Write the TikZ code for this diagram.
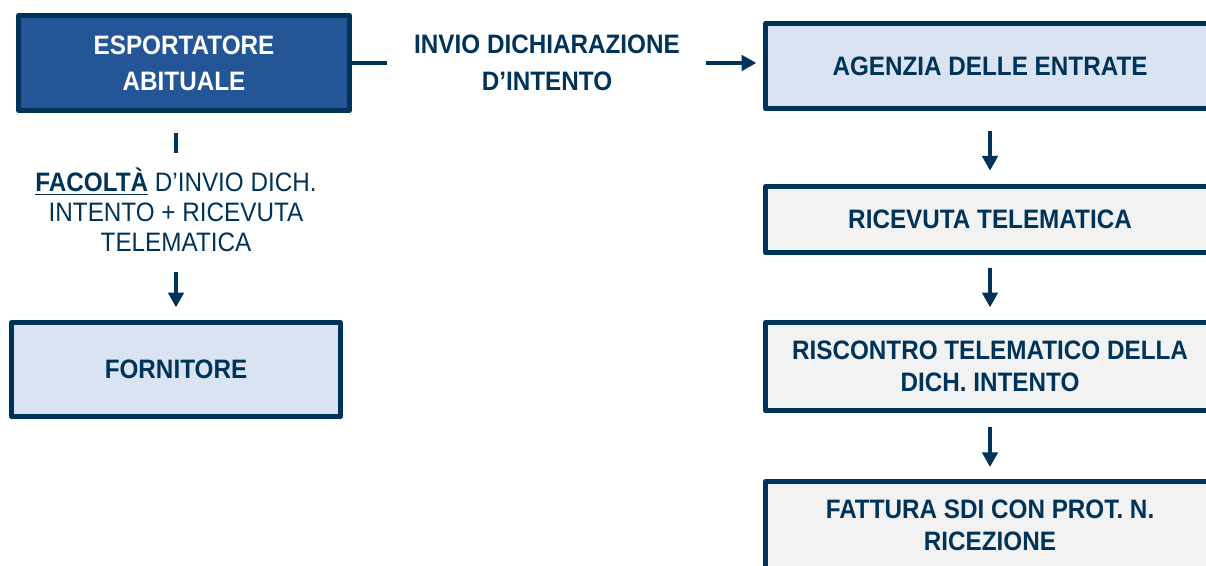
\documentclass[tikz,border=0pt]{standalone}
\usepackage{fontspec}
\setmainfont{Liberation Sans}[FakeStretch=0.91]
\usetikzlibrary{arrows.meta}
\definecolor{navy}{HTML}{003359}
\definecolor{boxdark}{HTML}{245596}
\definecolor{boxlight}{HTML}{DAE3F1}
\definecolor{boxgrey}{HTML}{F2F2F2}

\begin{document}
\begin{tikzpicture}[x=0.75pt, y=-0.75pt, line join=round,
	box/.style={draw=navy, line width=3.75pt, inner sep=0pt, align=center, text=navy,
		font=\bfseries\fontsize{20}{24}\selectfont},
	darkbox/.style={box, fill=boxdark, text=white, font=\bfseries\fontsize{20}{27}\selectfont},
	lightbox/.style={box, fill=boxlight},
	greybox/.style={box, fill=boxgrey},
	link/.style={draw=navy, line width=2.6pt},
	flow/.style={link, -{Triangle[length=11pt, width=11.5pt]}}]
	
	% Pixel unit and box sizes
	\def\PX{0.75pt}
	\def\RW{449}   % width of the right column boxes
	
	\useasboundingbox (0,0) rectangle (1206,566);
	\clip (0,0) rectangle (1206,566);
	
	% --- LEFT: exporter and supplier ---
	\node[darkbox, minimum width=331*\PX, minimum height=95*\PX] (esp) at (184,63)
	{ESPORTATORE\\ABITUALE};
	\node[align=center, inner sep=0pt, text=navy, font=\fontsize{20}{22.5}\selectfont] (fac) at (176,210)
	{\textbf{\underline{FACOLTÀ}} D’INVIO DICH.\\INTENTO + RICEVUTA\\TELEMATICA};
	\node[lightbox, minimum width=329*\PX, minimum height=94*\PX] (forn) at (176,369.5) {FORNITORE};
	
	\draw[link, shorten <=15pt, shorten >=11pt] (fac.north |- esp.south) -- (fac.north);
	\draw[flow, shorten <=15pt, shorten >=9.5pt] (fac.south) -- (forn.north);
	
	% --- TOP: sending the declaration ---
	\node[align=center, inner sep=0pt, text=navy, font=\bfseries\fontsize{20}{28}\selectfont] (invio) at (547,63)
	{INVIO DICHIARAZIONE\\D’INTENTO};
	\draw[link, shorten >=20pt] (esp.east) -- (invio.west);
	
	% --- RIGHT: steps at the Agenzia ---
	\node[lightbox, minimum width=\RW*\PX, minimum height=85*\PX] (agz) at (990,66) {AGENZIA DELLE ENTRATE};
	\node[greybox, minimum width=\RW*\PX, minimum height=66*\PX] (ric) at (990,219.5) {RICEVUTA TELEMATICA};
	\node[greybox, minimum width=\RW*\PX, minimum height=88*\PX] (ris) at (990,366.5)
	{RISCONTRO TELEMATICO DELLA\\DICH. INTENTO};
	\node[greybox, minimum width=\RW*\PX, minimum height=88*\PX] (fat) at (990,525.5)
	{FATTURA SDI CON PROT. N.\\RICEZIONE};
	
	\draw[flow, shorten <=19.5pt, shorten >=5pt] (invio.east) -- (invio.east -| agz.west);
	\draw[flow, shorten <=15pt, shorten >=10pt] (agz) -- (ric);
	\draw[flow, shorten <=9.5pt, shorten >=9.5pt] (ric) -- (ris);
	\draw[flow, shorten <=10.5pt, shorten >=9pt] (ris) -- (fat);
	
\end{tikzpicture}
\end{document}
